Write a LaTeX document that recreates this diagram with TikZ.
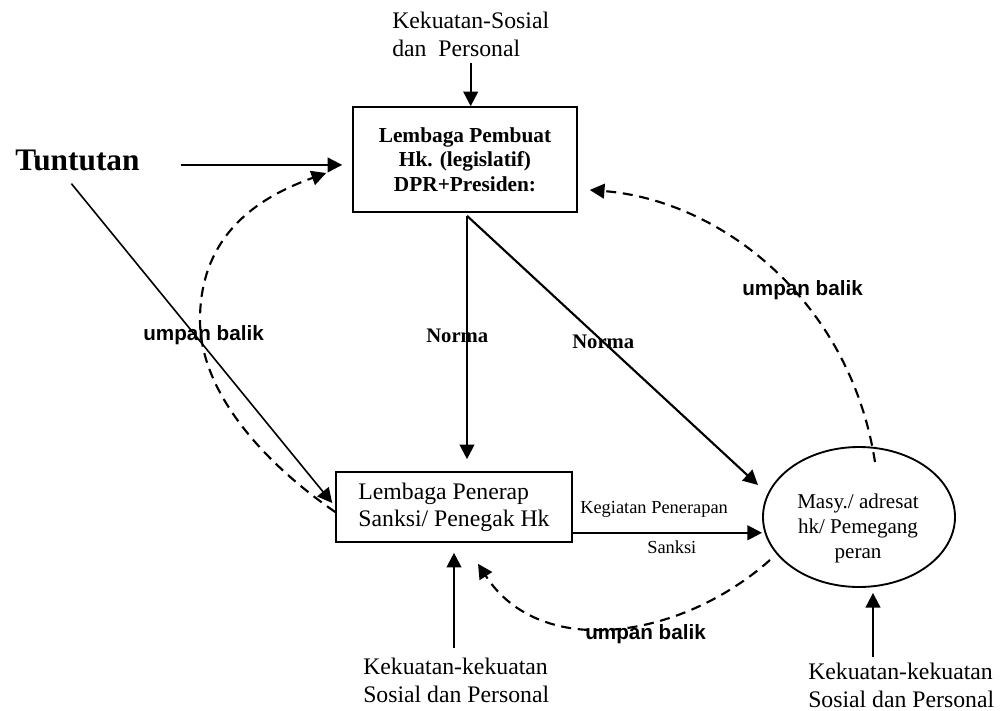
\documentclass[tikz,border=0pt]{standalone}
\usepackage{fontspec}
\setmainfont{Liberation Serif}
\newfontfamily\sansf{Liberation Sans}
\usetikzlibrary{arrows.meta,calc,shapes.geometric}
\begin{document}
\begin{tikzpicture}[x=0.75pt,y=-0.75pt,
  arr/.style={-{Triangle[length=11pt,width=11pt]}, line width=1.6pt},
  thinarr/.style={-{Triangle[length=11pt,width=11pt]}, line width=1.2pt},
  fb/.style={-{Triangle[length=11pt,width=11pt]}, line width=1.6pt, dash pattern=on 7.5pt off 5pt},
  box/.style={draw, line width=1.2pt, inner sep=0pt},
  txt/.style={inner sep=0pt, font=\fontsize{17.8}{20.3}\selectfont, align=left},
  fbl/.style={inner sep=0pt, font=\sansf\bfseries\fontsize{15.5}{18}\selectfont},
  nlbl/.style={inner sep=0pt, font=\bfseries\fontsize{15.5}{18}\selectfont},
  small/.style={inner sep=0pt, font=\fontsize{13.8}{16}\selectfont},
]
\useasboundingbox (0,0) rectangle (1001,711);

% nodes
\node[box, minimum width=168pt, minimum height=78.75pt, align=center,
      font=\bfseries\fontsize{16}{18.4}\selectfont] (L) at (465,159.5)
      {Lembaga Pembuat\\Hk. (legislatif)\\DPR+Presiden:};
\node[box, minimum width=177pt, minimum height=52.5pt, align=left,
      font=\fontsize{17.8}{20.3}\selectfont] (P) at (454,507)
      {Lembaga Penerap\\Sanksi/ Penegak Hk};
\node[draw, ellipse, line width=1.4pt, minimum width=144pt, minimum height=105pt,
      inner sep=0pt] (M) at (859,517) {};
\node[align=center, inner sep=0pt, font=\fontsize{15.8}{18.75}\selectfont,
      anchor=base] (MT) at (858,558) {Masy./ adresat\\hk/ Pemegang\\peran};

\node[txt, anchor=base west] (S1) at (392,56) {Kekuatan-Sosial\\dan\ \ Personal};
\node[inner sep=0pt, anchor=base west, font=\bfseries\fontsize{23.5}{28}\selectfont]
      (T) at (15,170) {Tuntutan};
\node[txt, anchor=base west] (S2) at (363,702) {Kekuatan-kekuatan\\Sosial dan Personal};
\node[txt, anchor=base west] (S3) at (808,707) {Kekuatan-kekuatan\\Sosial dan Personal};

\node[fbl, anchor=base west] (U1) at (143,340) {umpan balik};
\node[fbl, anchor=base west] (U2) at (742,295) {umpan balik};
\node[fbl, anchor=base west] (U3) at (585,639) {umpan balik};
\node[nlbl, anchor=base west] (N1) at (426,342) {Norma};
\node[nlbl, anchor=base west] (N2) at (572,348) {Norma};
\node[small, anchor=base west] (K1) at (580,513) {Kegiatan Penerapan};
\node[small, anchor=base west] (K2) at (647,553) {Sanksi};

% solid connectors
\draw[arr, shorten <=4.5pt] (S1.south) -- (S1.south |- L.north);
\draw[arr] ($(T.east)+(41,5)$) -- ($(T.east -| L.west)+(-10,5)$);
\draw[thinarr] ($(T.south)+(-6,13)$) -- ($(P.west)+(-3,-4)$);

\coordinate (n0) at ($(L.south)+(2,3)$);
\draw[arr, shorten >=9pt] (n0) -- (n0 |- P.north);
\draw[arr] (n0) -- ($(M.center)+(-101,-32)$);

\coordinate (p0) at ($(P.south east)+(0,-10)$);
\draw[arr] (p0) -- (p0 -| M.west);

\draw[arr, shorten <=8pt, shorten >=7.5pt] (S2.north -| P.south) -- (P.south);
\coordinate (mb) at ($(M.south)+(14,0)$);
\draw[arr, shorten <=5pt, shorten >=3.75pt] (S3.north -| mb) -- (mb);

% feedback (dashed)
\draw[fb] ($(P.west)+(0,5)$) .. controls (260,460) and (200,390) .. (200,320)
          .. controls (200,230) and (265,195) .. ($(L.west)+(-26,13.5)$);
\draw[fb] ($(M.north)+(16,16)$) .. controls (850,300) and (720,200) .. ($(L.east)+(12,30.5)$);
\draw[fb] ($(M.center)+(-89,43)$) .. controls (680,640) and (540,660) .. ($(P.south)+(24,21)$);
\end{tikzpicture}
\end{document}
